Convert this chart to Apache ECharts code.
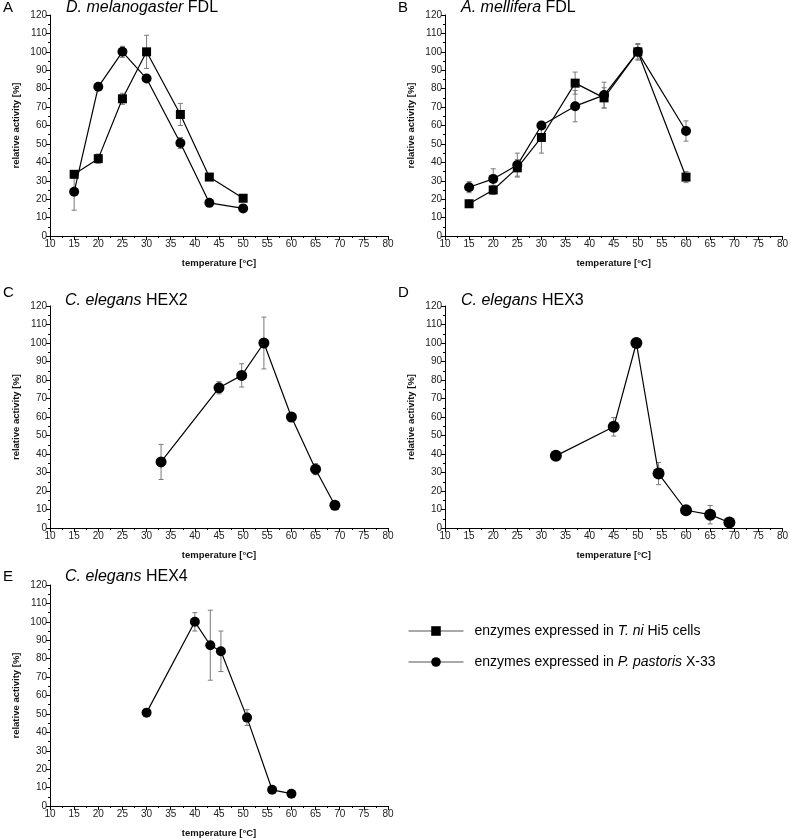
<!DOCTYPE html>
<html>
<head>
<meta charset="utf-8">
<script src="https://cdn.jsdelivr.net/npm/echarts@6/dist/echarts.min.js"></script>
<style>
html,body{margin:0;padding:0;background:#fff;}
#c{width:791px;height:839px;}
</style>
</head>
<body>
<div id="c"></div>
<script>
// ---- data ----
var xTicks = [10,15,20,25,30,35,40,45,50,55,60,65,70,75,80];
var yTicks = [0,10,20,30,40,50,60,70,80,90,100,110,120];

var A_temp = [15,20,25,30,37,43,50];
var A_tni = [33.5,42,74.5,100,66,32,20.5];
var A_tni_err = [1.5,2.5,3,9,6,1,1];
var A_pp = [24,81,100,85.5,50.5,18,15];
var A_pp_err = [10,1,3,1,3,1,1];

var B_temp = [15,20,25,30,37,43,50,60];
var B_tni = [17.5,25,37,53.5,83,75,100,32];
var B_tni_err = [2,2.5,4.5,8.5,6,5.5,4.5,3];
var B_pp = [26.5,31,38.5,60,70.5,76.5,100,57];
var B_pp_err = [3,5.5,6.5,2,8.5,7,4,5.5];

var C_temp = [33,45,49.7,54.3,60,65,69];
var C_pp = [35.7,75.8,82.5,100,60,31.8,12.3];
var C_pp_err = [9.5,3.3,6.3,14,1,3,1];

var D_temp = [33,45,49.7,54.3,60,65,69];
var D_pp = [39,54.7,100,29.4,9.6,7.2,3];
var D_pp_err = [1.5,5,2.5,6,1,5,1];

var E_temp = [30,40,43.2,45.4,50.8,56,60];
var E_pp = [50.7,100,87.3,84,48,8.8,6.7];
var E_pp_err = [1,5,19,11,4.3,1,1];

var nameTni = 'enzymes expressed in T. ni Hi5 cells';
var namePp = 'enzymes expressed in P. pastoris X-33';

var panelLetters = ['A','B','C','D','E'];
var panelTitles = [['D. melanogaster','FDL'],['A. mellifera','FDL'],['C. elegans','HEX2'],['C. elegans','HEX3'],['C. elegans','HEX4']];

// ---- layout ----
var FONT = 'Liberation Sans, Arial, sans-serif';
var grids = [
  {left:50, top:15, width:338, height:221},
  {left:445, top:15, width:338, height:221},
  {left:50, top:306, width:338, height:222},
  {left:445, top:306, width:338, height:222},
  {left:50, top:585, width:338, height:222}
];
var letterPos = [[3,0],[398,0],[3,285],[398,285],[3,569]];
var titlePos = [[66,0],[461,0],[65,293],[461,293],[65,569]];

function pairs(xs, ys){ return xs.map(function(x,i){return [x, ys[i]];}); }
function triples(xs, ys, es){ return xs.map(function(x,i){return [x, ys[i], es[i]];}); }

var xAxes = [], yAxes = [];
grids.forEach(function(g, i){
  xAxes.push({
    type:'value', gridIndex:i, min:10, max:80, interval:5,
    name:'temperature [°C]', nameLocation:'middle', nameGap:22,
    nameTextStyle:{fontFamily:FONT, fontWeight:'bold', fontSize:9.5, color:'#111'},
    axisLine:{show:true, onZero:false, lineStyle:{color:'#000', width:1}},
    axisTick:{show:true, inside:false, length:4, lineStyle:{color:'#000'}},
    minorTick:{show:true, splitNumber:2, length:2, lineStyle:{color:'#000'}},
    axisLabel:{fontFamily:FONT, fontSize:10, color:'#222', margin:3,
      formatter:function(v){ return xTicks.indexOf(v) >= 0 ? String(v) : ''; }},
    splitLine:{show:false}
  });
  yAxes.push({
    type:'value', gridIndex:i, min:0, max:120, interval:10,
    name:'relative activity [%]', nameLocation:'middle', nameGap:29,
    nameTextStyle:{fontFamily:FONT, fontWeight:'bold', fontSize:9.5, color:'#111'},
    axisLine:{show:true, onZero:false, lineStyle:{color:'#000', width:1}},
    axisTick:{show:true, inside:false, length:4, lineStyle:{color:'#000'}},
    minorTick:{show:true, splitNumber:2, length:2, lineStyle:{color:'#000'}},
    axisLabel:{fontFamily:FONT, fontSize:10, color:'#222', margin:3,
      formatter:function(v){ return yTicks.indexOf(v) >= 0 ? String(v) : ''; }},
    splitLine:{show:false}
  });
});

function errSeries(idx, data){
  return {
    type:'custom', xAxisIndex:idx, yAxisIndex:idx, z:1, silent:true,
    data:data, encode:{x:0, y:1},
    renderItem:function(params, api){
      var x = api.value(0), y = api.value(1), e = api.value(2);
      var t = api.coord([x, y+e]), b = api.coord([x, y-e]);
      var w = 2.5;
      var st = {stroke:'#7a7a7a', lineWidth:1};
      return {type:'group', children:[
        {type:'line', shape:{x1:t[0], y1:t[1], x2:b[0], y2:b[1]}, style:st},
        {type:'line', shape:{x1:t[0]-w, y1:t[1], x2:t[0]+w, y2:t[1]}, style:st},
        {type:'line', shape:{x1:b[0]-w, y1:b[1], x2:b[0]+w, y2:b[1]}, style:st}
      ]};
    }
  };
}
function lineSeries(idx, name, data, symbol, size){
  return {
    type:'line', name:name, xAxisIndex:idx, yAxisIndex:idx, z:3,
    data:data, symbol:symbol, symbolSize:size, showAllSymbol:true,
    lineStyle:{color:'#000', width:1.2},
    itemStyle:{color:'#000', borderWidth:0},
    emphasis:{disabled:true}, animation:false
  };
}

var series = [
  errSeries(0, triples(A_temp, A_tni, A_tni_err)),
  errSeries(0, triples(A_temp, A_pp, A_pp_err)),
  lineSeries(0, nameTni, pairs(A_temp, A_tni), 'rect', 9),
  lineSeries(0, namePp, pairs(A_temp, A_pp), 'circle', 10),
  errSeries(1, triples(B_temp, B_tni, B_tni_err)),
  errSeries(1, triples(B_temp, B_pp, B_pp_err)),
  lineSeries(1, nameTni, pairs(B_temp, B_tni), 'rect', 9),
  lineSeries(1, namePp, pairs(B_temp, B_pp), 'circle', 10),
  errSeries(2, triples(C_temp, C_pp, C_pp_err)),
  lineSeries(2, namePp, pairs(C_temp, C_pp), 'circle', 11),
  errSeries(3, triples(D_temp, D_pp, D_pp_err)),
  lineSeries(3, namePp, pairs(D_temp, D_pp), 'circle', 12),
  errSeries(4, triples(E_temp, E_pp, E_pp_err)),
  lineSeries(4, namePp, pairs(E_temp, E_pp), 'circle', 10)
];

var titles = [];
panelLetters.forEach(function(l, i){
  titles.push({text:l, left:letterPos[i][0], top:letterPos[i][1], padding:0,
    textStyle:{fontFamily:FONT, fontSize:15, fontWeight:'normal', color:'#000'}});
  titles.push({text:'{i|' + panelTitles[i][0] + '} {n|' + panelTitles[i][1] + '}',
    left:titlePos[i][0], top:titlePos[i][1], padding:0,
    textStyle:{fontWeight:'normal', fontFamily:FONT, fontSize:16, rich:{
      i:{fontFamily:FONT, fontSize:16, fontStyle:'italic', fontWeight:'normal', color:'#000'},
      n:{fontFamily:FONT, fontSize:16, fontWeight:'normal', color:'#000'}
    }}});
});

var chart = echarts.init(document.getElementById('c'), null, {renderer:'canvas'});
chart.setOption({
  backgroundColor:'#fff',
  animation:false,
  title:titles,
  grid:grids,
  xAxis:xAxes,
  yAxis:yAxes,
  legend:{
    show:true, orient:'vertical', left:408, top:624, padding:0,
    itemWidth:55, itemHeight:12, itemGap:17,
    data:[nameTni, namePp],
    selectedMode:false,
    lineStyle:{color:'#555', width:1},
    formatter:function(n){
      if(n === nameTni) return '{n|enzymes expressed in }{i|T. ni}{n| Hi5 cells}';
      return '{n|enzymes expressed in }{i|P. pastoris}{n| X-33}';
    },
    textStyle:{padding:[0,0,0,6], rich:{
      n:{fontFamily:FONT, fontSize:14, color:'#000'},
      i:{fontFamily:FONT, fontSize:14, fontStyle:'italic', color:'#000'}
    }}
  },
  series:series
});
</script>
</body>
</html>
